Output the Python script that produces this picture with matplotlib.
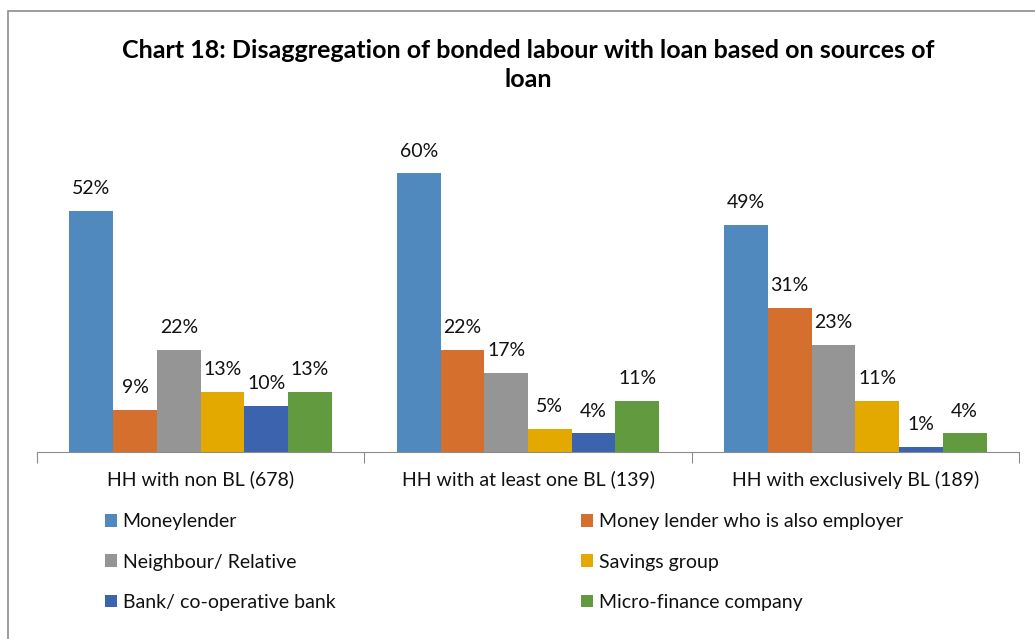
import matplotlib.pyplot as plt
from matplotlib.patches import Rectangle
import numpy as np

plt.rcParams['font.family'] = ['Lato', 'DejaVu Sans']

# categories and loan-source shares (%)
groups = ["HH with non BL (678)", "HH with at least one BL (139)", "HH with exclusively BL (189)"]
sources = ["Moneylender", "Money lender who is also employer", "Neighbour/ Relative",
           "Savings group", "Bank/ co-operative bank", "Micro-finance company"]
moneylender = [52, 60, 49]
lender_employer = [9, 22, 31]
neighbour = [22, 17, 23]
savings = [13, 5, 11]
bank = [10, 4, 1]
microfinance = [13, 11, 4]
colors = ["#4f89bd", "#d46f2d", "#959595", "#e3a900", "#3c63ad", "#629b3f"]

series = [moneylender, lender_employer, neighbour, savings, bank, microfinance]

fig = plt.figure(figsize=(10.35, 6.39), dpi=100)
ax = fig.add_axes([37 / 1035, 1 - 452 / 639, 982 / 1035, 325 / 639])

x = np.arange(len(groups))
w = 0.1336
bars = []
for i, (vals, c) in enumerate(zip(series, colors)):
    b = ax.bar(x + (i - 2.5) * w, vals, w, color=c, label=sources[i])
    bars.append(b)
    for xi, v in zip(x + (i - 2.5) * w, vals):
        ax.annotate(f"{v}%", (xi, v), xytext=(0, 10), textcoords="offset points",
                    ha="center", va="bottom", fontsize=14, color="#111111")

ax.set_xlim(-0.5, 2.5)
ax.set_ylim(0, 70)
ax.set_yticks([])
for s in ["top", "right", "left"]:
    ax.spines[s].set_visible(False)
ax.spines["bottom"].set_color("#8c8c8c")
ax.set_xticks([-0.5, 0.5, 1.5, 2.5])
ax.set_xticklabels([])
ax.tick_params(axis="x", length=8, color="#8c8c8c")
for xi, g in zip(x, groups):
    ax.text(xi, -0.085, g, transform=ax.get_xaxis_transform(), ha="center", va="center",
            fontsize=14, color="#111111")

fig.text(528 / 1035, 1 - 65 / 639,
         "Chart 18: Disaggregation of bonded labour with loan based on sources of\nloan",
         ha="center", va="center", fontsize=18, fontweight="bold", linespacing=1.35)

# legend, two columns filled row by row
order = [0, 2, 4, 1, 3, 5]
fig.legend([bars[k] for k in order], [sources[k] for k in order], ncol=2,
           loc="upper left", bbox_to_anchor=(87 / 1035, 1 - 496 / 639), frameon=False,
           fontsize=14, handlelength=0.62, handleheight=0.62, handletextpad=0.31,
           labelspacing=1.19, columnspacing=12.65, labelcolor="#111111")

# chart border
fig.patches.append(Rectangle((8 / 1035, -0.1), 1.2, 1 - 11 / 639 + 0.1, transform=fig.transFigure,
                             fill=False, edgecolor="#8c8c8c", linewidth=1.2))

fig.savefig("out.png", dpi=100)
